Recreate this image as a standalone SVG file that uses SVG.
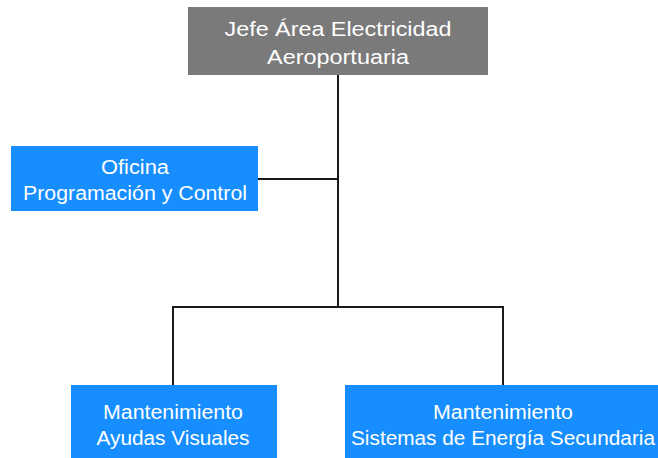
<svg xmlns="http://www.w3.org/2000/svg" width="658" height="458" viewBox="0 0 658 458">
<style>
.t{font-family:"Liberation Sans",Arial,sans-serif;font-size:20px;fill:#ffffff;text-anchor:middle}
.blue{fill:#168eff}
.gray{fill:#7a7a7a}
.c{stroke:#1a1a1a;stroke-width:2;fill:none}
</style>
<rect width="658" height="458" fill="#fff"/>
<g id="connectors">
<path class="c" d="M338 75 V307"/>
<path class="c" d="M258 179 H338"/>
<path class="c" d="M173 385 V307 H503 V385"/>
</g>
<g id="jefe">
<rect class="gray" x="188" y="7" width="300" height="68"/>
<text class="t" x="338" y="36" textLength="227" lengthAdjust="spacingAndGlyphs">Jefe Área Electricidad</text>
<text class="t" x="338" y="64" textLength="142" lengthAdjust="spacingAndGlyphs">Aeroportuaria</text>
</g>
<g id="oficina">
<rect class="blue" x="11" y="146" width="247" height="65"/>
<text class="t" x="135" y="174" textLength="68" lengthAdjust="spacingAndGlyphs">Oficina</text>
<text class="t" x="135" y="200" textLength="224" lengthAdjust="spacingAndGlyphs">Programación y Control</text>
</g>
<g id="ayudas">
<rect class="blue" x="71" y="385" width="206" height="73"/>
<text class="t" x="173" y="419" textLength="140" lengthAdjust="spacingAndGlyphs">Mantenimiento</text>
<text class="t" x="173" y="445" textLength="153" lengthAdjust="spacingAndGlyphs">Ayudas Visuales</text>
</g>
<g id="sistemas">
<rect class="blue" x="345" y="385" width="313" height="73"/>
<text class="t" x="503" y="419" textLength="140" lengthAdjust="spacingAndGlyphs">Mantenimiento</text>
<text class="t" x="503" y="445" textLength="304" lengthAdjust="spacingAndGlyphs">Sistemas de Energía Secundaria</text>
</g>
</svg>
